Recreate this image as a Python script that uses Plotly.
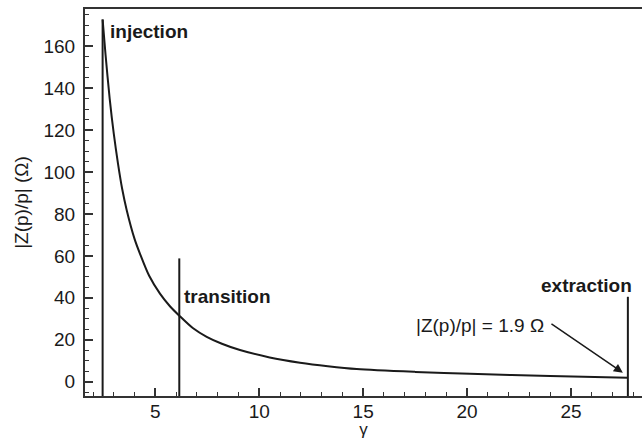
import plotly.graph_objects as go

# Curve data
gamma = [2.46, 2.6, 2.8, 3.0, 3.2, 3.4, 3.62, 4.0, 4.26, 4.7, 5.22, 5.7, 6.15, 6.8, 7.47, 8.2, 9.07,
         10.5, 11.96, 13.3, 14.69, 17.5, 20.14, 24.0, 27.74]
zp = [172.7, 156.0, 135.0, 118.0, 104.0, 92.0, 81.8, 68.0, 61.0, 50.5, 42.0, 36.0, 31.5, 25.6, 21.4, 18.1, 15.1,
      11.6, 9.1, 7.4, 6.05, 4.7, 3.8, 2.7, 1.9]

# Vertical markers
marker_names = ["injection", "transition", "extraction"]
marker_gamma = [2.46, 6.15, 27.74]
marker_top = [172.7, 58.8, 40.5]

# Label positions
label_x = [2.72, 6.3, 25.77]
label_y = [167.0, 40.8, 46.1]
label_anchor = ["left", "left", "center"]

x_range = [1.612, 28.42]
y_range = [-6.8, 177.7]

FONT = "Liberation Sans, Arial, Helvetica, sans-serif"
INK = "#1a1a1a"
FS = 19

fig = go.Figure()

for xv, top in zip(marker_gamma, marker_top):
    fig.add_trace(go.Scatter(x=[xv, xv], y=[y_range[0], top], mode="lines",
                             line=dict(color=INK, width=2), showlegend=False, hoverinfo="skip"))

fig.add_trace(go.Scatter(x=gamma, y=zp, mode="lines", line=dict(color=INK, width=2, shape="spline", smoothing=0.8),
                         showlegend=False))

for name, lx, ly, anc in zip(marker_names, label_x, label_y, label_anchor):
    fig.add_annotation(x=lx, y=ly, text="<b>" + name + "</b>", showarrow=False,
                       xanchor=anc, yanchor="middle", font=dict(family=FONT, size=FS, color=INK))

fig.add_annotation(x=23.8, y=27.0, text="|Z(p)/p| = 1.9 Ω", showarrow=False, xanchor="right",
                   yanchor="middle", font=dict(family=FONT, size=FS, color=INK))
fig.add_annotation(x=27.5, y=4.3, ax=23.99, ay=28.1, axref="x", ayref="y", xref="x", yref="y",
                   text="", showarrow=True, arrowhead=2, arrowsize=1.2, arrowwidth=1.5, arrowcolor=INK)

fig.update_xaxes(range=x_range, tickmode="array", tickvals=[5, 10, 15, 20, 25], ticks="inside", ticklen=8,
                 tickwidth=1.5, tickcolor="#333", showline=True, linecolor="#333", linewidth=2, mirror=True,
                 showgrid=False, zeroline=False,
                 minor=dict(dtick=1, tick0=0, ticks="inside", ticklen=4, tickcolor="#333", tickwidth=1, showgrid=False),
                 tickfont=dict(family=FONT, size=FS, color=INK), ticklabelstandoff=-3,
                 title=dict(text="γ", font=dict(family=FONT, size=17, color=INK), standoff=6))
fig.update_yaxes(range=y_range, tickmode="array", tickvals=[0, 20, 40, 60, 80, 100, 120, 140, 160], ticks="inside",
                 ticklen=8, tickwidth=1.5, tickcolor="#333", showline=True, linecolor="#333", linewidth=2,
                 showgrid=False, zeroline=False,
                 minor=dict(dtick=5, tick0=0, ticks="inside", ticklen=4, tickcolor="#333", tickwidth=1, showgrid=False),
                 tickfont=dict(family=FONT, size=FS, color=INK), ticklabelstandoff=4,
                 title=dict(text="|Z(p)/p| (Ω)", font=dict(family=FONT, size=FS, color=INK), standoff=10))

fig.update_layout(width=642, height=439, margin=dict(l=85, r=0, t=9, b=43),
                  plot_bgcolor="white", paper_bgcolor="white", showlegend=False)

fig.write_html("out.html")
